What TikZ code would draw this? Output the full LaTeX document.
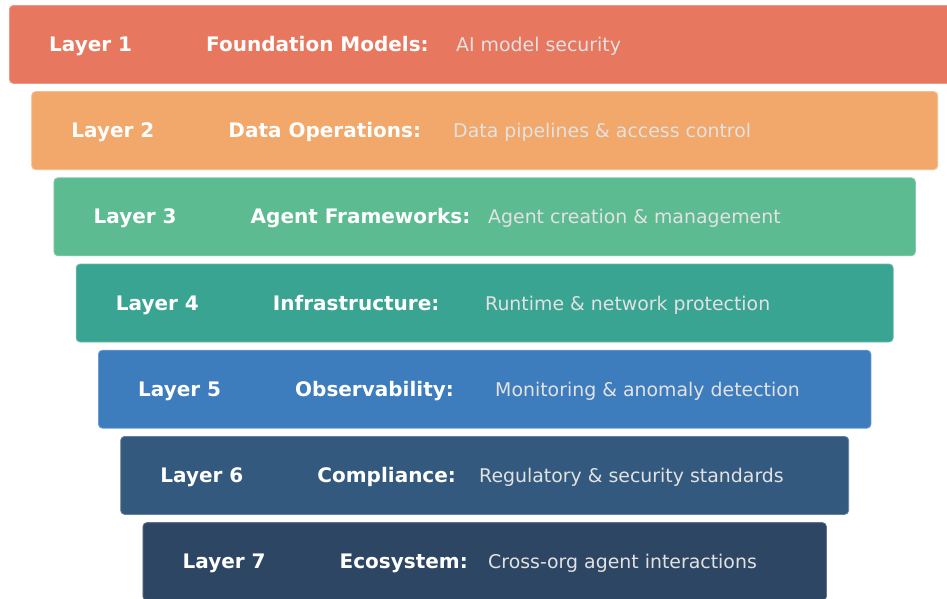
\documentclass[tikz,border=0pt]{standalone}
\usepackage{fontspec}
\setmainfont{DejaVu Sans}
\definecolor{lay1}{HTML}{E8775F}
\definecolor{lay2}{HTML}{F2A86A}
\definecolor{lay3}{HTML}{5DBB91}
\definecolor{lay4}{HTML}{3AA492}
\definecolor{lay5}{HTML}{3D7CBD}
\definecolor{lay6}{HTML}{33597E}
\definecolor{lay7}{HTML}{2D4664}
\definecolor{desctext}{HTML}{E2E2E2}
\tikzset{
  layerbox/.style={rectangle, rounded corners=4pt, anchor=north west,
    minimum height=78pt, inner sep=0pt, line width=0.8pt},
  layernum/.style={anchor=base west, inner sep=0pt, text=white,
    font=\fontsize{20}{24}\selectfont\bfseries},
  layertitle/.style={anchor=base west, inner sep=0pt, text=white,
    font=\fontsize{20}{24}\selectfont\bfseries},
  layerdesc/.style={anchor=base west, inner sep=0pt, text=desctext,
    font=\fontsize{18.9}{24}\selectfont},
}
\begin{document}
\begin{tikzpicture}[x=1pt,y=-1pt]
\useasboundingbox (0,0) rectangle (947,598);
\clip (0,0) rectangle (947,598);
\fill[white] (0,0) rectangle (947,598);
% stacked layers, each shifted right and narrowed
\foreach \i/\title/\desc/\dx in {
  1/Foundation Models:/AI model security/456,
  2/Data Operations:/Data pipelines \& access control/453,
  3/Agent Frameworks:/Agent creation \& management/488,
  4/Infrastructure:/Runtime \& network protection/485,
  5/Observability:/Monitoring \& anomaly detection/495,
  6/Compliance:/Regulatory \& security standards/479,
  7/Ecosystem:/Cross-org agent interactions/488}{
  \pgfmathsetmacro{\lx}{9+22.25*(\i-1)}
  \pgfmathsetmacro{\ty}{5+86.2*(\i-1)}
  \pgfmathsetmacro{\bw}{950.5-44.5*(\i-1)}
  \node[layerbox, fill=lay\i, draw=lay\i!75!white, minimum width=\bw pt]
    (box\i) at (\lx,\ty) {};
  \node[layernum] (num\i) at (\lx+40,\ty+46.5) {Layer \i};
  \node[layertitle] (title\i) at (\lx+197,\ty+46.5) {\title};
  \node[layerdesc] (desc\i) at (\dx,\ty+46.5) {\desc};
}
\end{tikzpicture}
\end{document}
